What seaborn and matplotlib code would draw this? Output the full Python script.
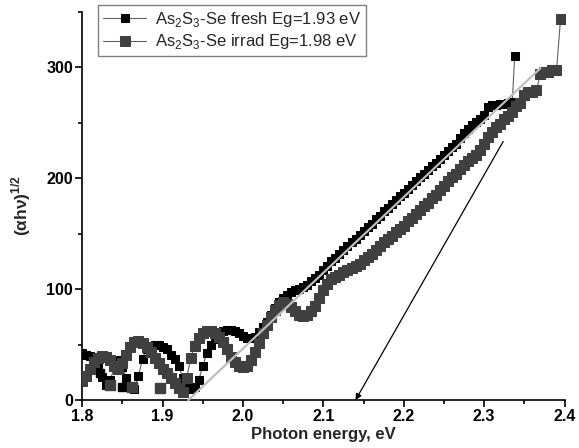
import matplotlib
matplotlib.use("Agg")
import matplotlib.pyplot as plt
from matplotlib.ticker import MultipleLocator
import seaborn as sns
import pandas as pd

# fresh film, photon energy (eV) and (alpha h nu)^1/2
fresh_E = [1.800, 1.805, 1.810, 1.815, 1.820, 1.825, 1.830, 1.835, 1.840, 1.845,
           1.850, 1.855, 1.860, 1.865, 1.870, 1.875, 1.880, 1.885, 1.890, 1.895,
           1.900, 1.905, 1.910, 1.915, 1.920, 1.925, 1.930, 1.935, 1.940, 1.945,
           1.950, 1.955, 1.960, 1.965, 1.970, 1.975, 1.980, 1.985, 1.990, 1.995,
           2.000, 2.005, 2.010, 2.015, 2.020, 2.025, 2.030, 2.035, 2.040, 2.045,
           2.050, 2.055, 2.060, 2.065, 2.070, 2.075, 2.080, 2.085, 2.090, 2.095,
           2.100, 2.105, 2.110, 2.115, 2.120, 2.125, 2.130, 2.135, 2.140, 2.145,
           2.150, 2.155, 2.160, 2.165, 2.170, 2.175, 2.180, 2.185, 2.190, 2.195,
           2.200, 2.205, 2.210, 2.215, 2.220, 2.225, 2.230, 2.235, 2.240, 2.245,
           2.250, 2.255, 2.260, 2.265, 2.270, 2.275, 2.280, 2.285, 2.290, 2.295,
           2.300, 2.305, 2.310, 2.315, 2.320, 2.325, 2.330, 2.335, 2.338]
fresh_y = [42, 41, 40, 37, 30, 21, 14, 18, 30, 36,
           30, 20, 12, 10, 22, 37, 46, 49, 50, 50,
           48, 46, 41, 37, 31, 20, 14, 10, 12, 18,
           31, 42, 50, 55, 59, 62, 63, 63, 62, 60,
           58, 56, 56, 57, 61, 66, 70, 77, 83, 88,
           92, 95, 97, 99, 100, 102, 104, 107, 110, 113,
           117, 121, 125, 128, 132, 135, 139, 142, 145, 149,
           152, 156, 159, 163, 166, 170, 173, 177, 180, 184,
           187, 190, 194, 197, 201, 204, 207, 211, 214, 217,
           221, 224, 228, 231, 236, 241, 244, 248, 251, 253,
           257, 264, 266, 266, 267, 267, 268, 269, 310]

# irradiated film
irrad_E = [1.800, 1.805, 1.810, 1.815, 1.820, 1.825, 1.830, 1.835, 1.840, 1.845,
           1.850, 1.855, 1.860, 1.865, 1.870, 1.875, 1.880, 1.885, 1.890, 1.895,
           1.900, 1.905, 1.910, 1.915, 1.920, 1.925, 1.930, 1.935, 1.940, 1.945,
           1.950, 1.955, 1.960, 1.965, 1.970, 1.975, 1.980, 1.985, 1.990, 1.995,
           2.000, 2.005, 2.010, 2.015, 2.020, 2.025, 2.030, 2.035, 2.040, 2.045,
           2.050, 2.055, 2.060, 2.065, 2.070, 2.075, 2.080, 2.085, 2.090, 2.095,
           2.100, 2.105, 2.110, 2.115, 2.120, 2.125, 2.130, 2.135, 2.140, 2.145,
           2.150, 2.155, 2.160, 2.165, 2.170, 2.175, 2.180, 2.185, 2.190, 2.195,
           2.200, 2.205, 2.210, 2.215, 2.220, 2.225, 2.230, 2.235, 2.240, 2.245,
           2.250, 2.255, 2.260, 2.265, 2.270, 2.275, 2.280, 2.285, 2.290, 2.295,
           2.300, 2.305, 2.310, 2.315, 2.320, 2.325, 2.330, 2.335, 2.340, 2.345,
           2.350, 2.355, 2.360, 2.365, 2.370, 2.375, 2.380, 2.385, 2.390, 2.395]
irrad_y = [17, 22, 28, 34, 38, 40, 39, 36, 31, 28,
           33, 41, 48, 52, 53, 51, 48, 43, 38, 33,
           28, 24, 20, 15, 11, 7, 20, 38, 49, 56,
           60, 62, 62, 60, 57, 52, 46, 39, 34, 31,
           30, 31, 36, 43, 51, 60, 68, 75, 81, 86,
           88, 87, 84, 80, 77, 76, 77, 80, 85, 92,
           99, 105, 109, 111, 113, 115, 117, 119, 121, 123,
           126, 129, 132, 135, 139, 142, 145, 148, 151, 154,
           157, 161, 164, 168, 171, 175, 178, 182, 185, 189,
           193, 197, 201, 204, 208, 212, 215, 218, 221, 225,
           231, 237, 242, 246, 249, 253, 256, 260, 265, 268,
           275, 278, 278, 279, 294, 296, 296, 297, 297, 343]

# stray points below the fringes
fresh_noise_E = [1.822, 1.850]
fresh_noise_y = [24, 12]
irrad_noise_E = [1.834, 1.862, 1.897]
irrad_noise_y = [14, 12, 11]

# linear extrapolation to the gap
fit_E = [1.932, 2.370]
fit_y = [0, 299]
arrow_from = (2.3237, 233)
arrow_to = (2.140, 0)

sns.set_theme(style="ticks")
plt.rcParams["font.family"] = ["Liberation Sans", "DejaVu Sans"]
plt.rcParams["mathtext.fontset"] = "custom"
plt.rcParams["mathtext.rm"] = "Liberation Sans"
plt.rcParams["mathtext.bf"] = "Liberation Sans:bold"

fresh = pd.DataFrame({"E": fresh_E, "y": fresh_y})
irrad = pd.DataFrame({"E": irrad_E, "y": irrad_y})

fig = plt.figure(figsize=(5.79, 4.48), dpi=100)
ax = fig.add_axes([0.142, 0.107, 0.833, 0.867])

sns.lineplot(data=fresh, x="E", y="y", sort=False, estimator=None, ax=ax,
             color="#606060", lw=0.8, marker="s", markersize=6,
             markerfacecolor="black", markeredgecolor="black",
             label="As$_2$S$_3$-Se fresh Eg=1.93 eV", zorder=3)
sns.lineplot(data=irrad, x="E", y="y", sort=False, estimator=None, ax=ax,
             color="#606060", lw=0.8, marker="s", markersize=6.5,
             markerfacecolor="#404040", markeredgecolor="#404040",
             label="As$_2$S$_3$-Se irrad Eg=1.98 eV", zorder=4)
ax.plot(fresh_noise_E, fresh_noise_y, "s", color="black", ms=6, zorder=3)
ax.plot(irrad_noise_E, irrad_noise_y, "s", color="#404040", ms=6.5, zorder=4)

ax.plot(fit_E, fit_y, color="#bdbdbd", lw=1.6, zorder=5, clip_on=False)
ax.annotate("", xy=arrow_to, xytext=arrow_from, annotation_clip=False,
            arrowprops=dict(arrowstyle="-|>", color="black", lw=0.9,
                            mutation_scale=9, shrinkA=0, shrinkB=0))

ax.set_xlim(1.8, 2.4)
ax.set_ylim(0, 350)
ax.xaxis.set_major_locator(MultipleLocator(0.1))
ax.xaxis.set_minor_locator(MultipleLocator(0.05))
ax.yaxis.set_major_locator(MultipleLocator(100))
ax.yaxis.set_minor_locator(MultipleLocator(50))
ax.xaxis.set_major_formatter(plt.FuncFormatter(lambda v, p: f"{v:.1f}"))
ax.tick_params(which="both", direction="out", colors="black", width=1.2,
               labelsize=11.5)
ax.tick_params(which="major", length=5, pad=1.5)
ax.tick_params(which="minor", length=3)
for lab in ax.get_xticklabels() + ax.get_yticklabels():
    lab.set_fontweight("bold")

sns.despine(ax=ax)
for s in ["left", "bottom"]:
    ax.spines[s].set_color("black")
    ax.spines[s].set_linewidth(1.2)

ax.set_xlabel("Photon energy, eV", fontsize=12, fontweight="bold", labelpad=2)
ax.set_ylabel("(αhν)$^{\\mathbf{1/2}}$", fontsize=12.5, fontweight="bold", labelpad=10)

leg = ax.legend(loc="upper left", bbox_to_anchor=(0.033, 1.017), borderaxespad=0,
                fontsize=12, handlelength=2.6, numpoints=1, fancybox=False,
                framealpha=1, edgecolor="#808080", borderpad=0.3,
                labelspacing=0.2, handletextpad=0.5)
leg.get_frame().set_linewidth(1.0)

fig.savefig("out.png", dpi=100)
